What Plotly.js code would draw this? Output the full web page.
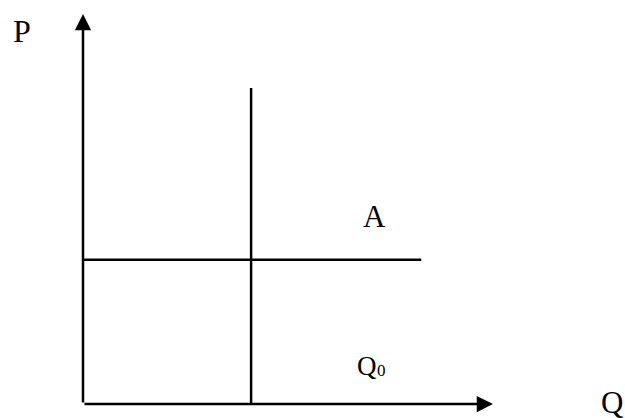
<!DOCTYPE html>
<html>
<head>
<meta charset="utf-8">
<script src="https://cdn.plot.ly/plotly-3.0.1.min.js"></script>
<style>html,body{margin:0;padding:0;background:#fff;}#chart{width:625px;height:418px;}</style>
</head>
<body>
<div id="chart"></div>
<script>
// Data (in chart units: Q horizontal, P vertical)
const axisMax = [10, 10];           // arrow tips of Q axis and P axis
const supplyQ = [4.1, 4.1];         // vertical line at Q0
const supplyP = [0, 8.1];
const demandQ = [0, 8.25];          // horizontal line at price level A
const demandP = [3.7, 3.7];
const labelA = {q: 7.1, p: 4.82, text: 'A'};
const labelQ0 = {q: 6.92, p: 0.97, text: 'Q', sub: '0'};
const axisLabels = ['P', 'Q'];

const serif = 'Liberation Serif, Times New Roman, serif';
const lineW = 2.5;

const traces = [
  {x: supplyQ, y: supplyP, mode: 'lines', line: {color: '#000', width: lineW}, hoverinfo: 'skip', cliponaxis: false},
  {x: demandQ, y: demandP, mode: 'lines', line: {color: '#000', width: lineW}, hoverinfo: 'skip', cliponaxis: false}
];

const ax = {range: [0, 10], visible: false, fixedrange: true};
const layout = {
  width: 625, height: 418,
  margin: {l: 83, r: 132, t: 14, b: 14, pad: 0},
  paper_bgcolor: '#fff', plot_bgcolor: '#fff',
  showlegend: false,
  xaxis: Object.assign({}, ax, {range: [0, axisMax[0]]}),
  yaxis: Object.assign({}, ax, {range: [0, axisMax[1]]}),
  annotations: [
    // Q axis with arrow
    {x: axisMax[0], y: 0, ax: 0, ay: 0, xref: 'x', yref: 'y', axref: 'x', ayref: 'y',
     text: '', showarrow: true, arrowhead: 2, arrowwidth: lineW, arrowsize: 1.3, arrowcolor: '#000', standoff: 0, startstandoff: 0},
    // P axis with arrow
    {x: 0, y: axisMax[1], ax: 0, ay: 0, xref: 'x', yref: 'y', axref: 'x', ayref: 'y',
     text: '', showarrow: true, arrowhead: 2, arrowwidth: lineW, arrowsize: 1.3, arrowcolor: '#000', standoff: 0, startstandoff: 0},
    {x: -0.149, y: 0.956, xref: 'paper', yref: 'paper', text: axisLabels[0], showarrow: false,
     xanchor: 'center', yanchor: 'middle', font: {family: serif, size: 32, color: '#000'}},
    {x: 1.291, y: 0.004, xref: 'paper', yref: 'paper', text: axisLabels[1], showarrow: false,
     xanchor: 'center', yanchor: 'middle', font: {family: serif, size: 31, color: '#000'}},
    {x: labelA.q, y: labelA.p, xref: 'x', yref: 'y', text: labelA.text, showarrow: false,
     xanchor: 'center', yanchor: 'middle', font: {family: serif, size: 31, color: '#000'}},
    {x: labelQ0.q, y: labelQ0.p, xref: 'x', yref: 'y', text: labelQ0.text, showarrow: false,
     xanchor: 'center', yanchor: 'middle', font: {family: serif, size: 27, color: '#000'}},
    {x: labelQ0.q + 0.37, y: labelQ0.p - 0.12, xref: 'x', yref: 'y', text: labelQ0.sub, showarrow: false,
     xanchor: 'center', yanchor: 'middle', font: {family: serif, size: 17, color: '#000'}}
  ]
};

Plotly.newPlot('chart', traces, layout, {staticPlot: true, displayModeBar: false});
</script>
</body>
</html>
